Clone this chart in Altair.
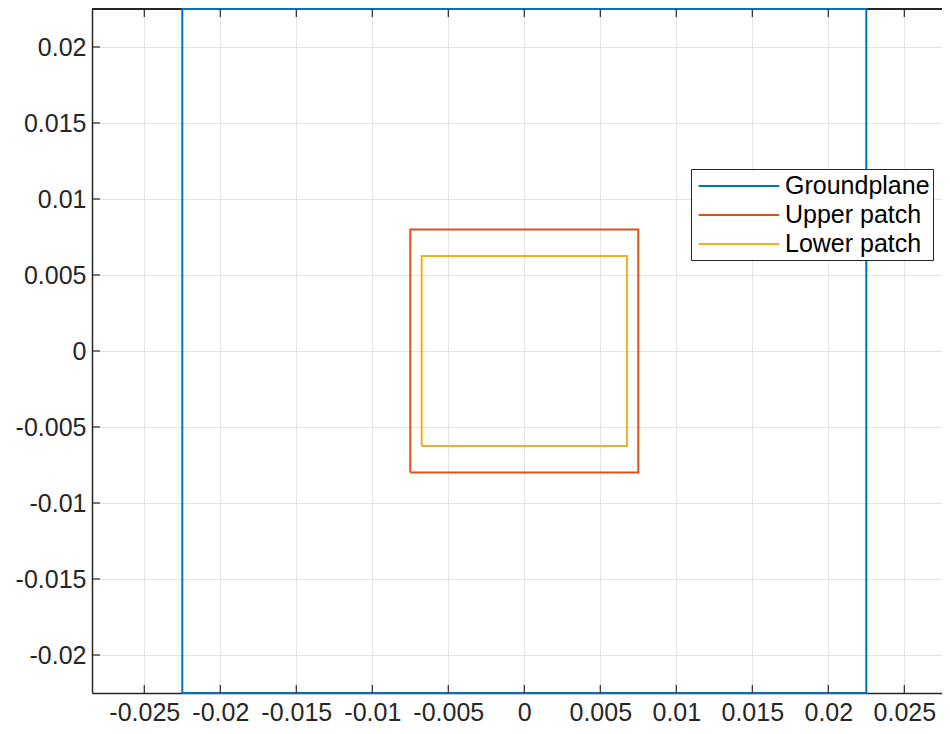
import altair as alt
import pandas as pd

shapes = ["Groundplane", "Upper patch", "Lower patch"]
colors = ["#0072BD", "#D95319", "#EDB120"]

gp_x = [-0.0225, 0.0225, 0.0225, -0.0225, -0.0225]
gp_y = [-0.0225, -0.0225, 0.0225, 0.0225, -0.0225]
up_x = [-0.0075, 0.0075, 0.0075, -0.0075, -0.0075]
up_y = [-0.008, -0.008, 0.008, 0.008, -0.008]
lp_x = [-0.00675, 0.00675, 0.00675, -0.00675, -0.00675]
lp_y = [-0.00625, -0.00625, 0.00625, 0.00625, -0.00625]

x_ticks = [-0.025, -0.02, -0.015, -0.01, -0.005, 0, 0.005, 0.01, 0.015, 0.02, 0.025]
y_ticks = [-0.02, -0.015, -0.01, -0.005, 0, 0.005, 0.01, 0.015, 0.02]

x_domain = [-0.02844, 0.02794]
y_domain = [-0.0225, 0.0225]

W = 857
H = 684

rows = []
for name, xs_, ys_ in [(shapes[0], gp_x, gp_y), (shapes[1], up_x, up_y), (shapes[2], lp_x, lp_y)]:
    for i, (xv, yv) in enumerate(zip(xs_, ys_)):
        rows.append({"shape": name, "x": xv, "y": yv, "i": i})
df = pd.DataFrame(rows)
xt_df = pd.DataFrame({"v": x_ticks})
yt_df = pd.DataFrame({"v": y_ticks})

FONT = "Liberation Sans"
FS = 25
AX = "#262626"
GRID = "#e3e3e3"
TICK = 8

xs = alt.Scale(domain=x_domain, nice=False, zero=False)
ys = alt.Scale(domain=y_domain, nice=False, zero=False)
lab = "'' + datum.value"

top_border = alt.Chart(xt_df).mark_rule(color=AX, strokeWidth=1.5).encode(
    y=alt.datum(y_domain[1], type="quantitative")
)

main = alt.Chart(df).mark_line(strokeWidth=2).encode(
    x=alt.X("x:Q", scale=xs, title=None,
            axis=alt.Axis(orient="bottom", values=x_ticks, labelExpr=lab, grid=True,
                          gridColor=GRID, gridWidth=1, ticks=False, domain=True,
                          domainColor=AX, domainWidth=1.5, labelFont=FONT,
                          labelFontSize=FS, labelColor=AX, labelPadding=7,
                          labelFlush=False, labelOverlap=False)),
    y=alt.Y("y:Q", scale=ys, title=None,
            axis=alt.Axis(orient="left", values=y_ticks, labelExpr=lab, grid=True,
                          gridColor=GRID, gridWidth=1, ticks=False, domain=True,
                          domainColor=AX, domainWidth=1.5, labelFont=FONT,
                          labelFontSize=FS, labelColor=AX, labelPadding=6,
                          labelFlush=False, labelOverlap=False)),
    color=alt.Color("shape:N", sort=shapes,
                    scale=alt.Scale(domain=shapes, range=colors),
                    legend=alt.Legend(orient="none", legendX=599, legendY=160,
                                      title=None, strokeColor=AX, fillColor="white",
                                      padding=3, symbolType="M-3.1,0H3.1", symbolSize=676,
                                      symbolStrokeWidth=2, labelFont=FONT,
                                      labelFontSize=FS, labelColor="#000",
                                      labelExpr="datum.label + '\u2009'",
                                      rowPadding=2, symbolOffset=31, labelOffset=32)),
    order="i:Q",
)

tick_bottom = alt.Chart(xt_df).mark_rule(color=AX, strokeWidth=1.2, y2Offset=-TICK).encode(
    x=alt.X("v:Q"),
    y=alt.datum(y_domain[0], type="quantitative"),
    y2=alt.datum(y_domain[0]),
)
tick_top = alt.Chart(xt_df).mark_rule(color=AX, strokeWidth=1.2, y2Offset=TICK).encode(
    x=alt.X("v:Q"),
    y=alt.datum(y_domain[1], type="quantitative"),
    y2=alt.datum(y_domain[1]),
)
tick_left = alt.Chart(yt_df).mark_rule(color=AX, strokeWidth=1.2, x2Offset=TICK).encode(
    y=alt.Y("v:Q"),
    x=alt.datum(x_domain[0], type="quantitative"),
    x2=alt.datum(x_domain[0]),
)

chart = alt.layer(top_border, main, tick_bottom, tick_top, tick_left).properties(
    width=W, height=H,
    padding={"left": 7, "top": -3, "right": -8, "bottom": 0},
).configure_view(stroke=None)

chart.save("out.html", embed_options={"renderer": "svg", "actions": False})
